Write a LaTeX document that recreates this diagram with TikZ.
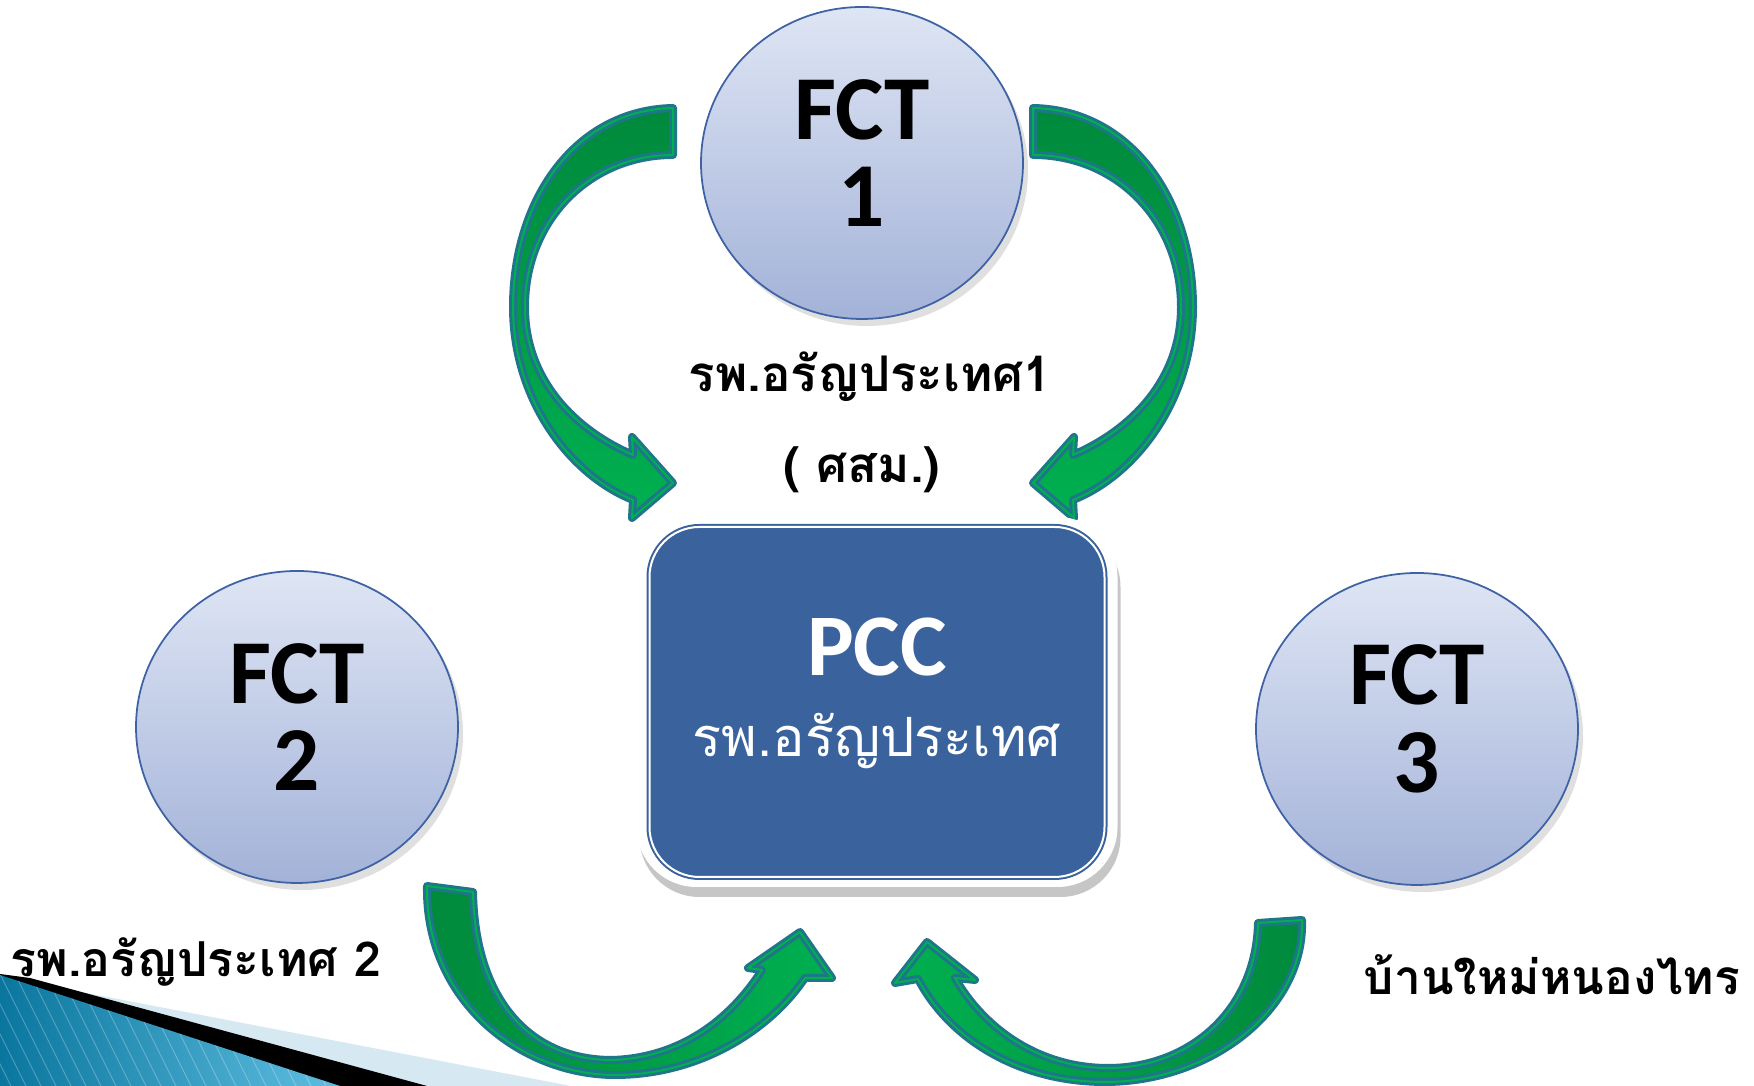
\documentclass[tikz,border=0pt]{standalone}
\usepackage{fontspec}
\setmainfont{Carlito}
\newfontfamily\thaifont[Script=Thai]{Loma}
\usetikzlibrary{shapes.geometric,shadows}

\definecolor{circtop}{RGB}{222,229,244}
\definecolor{circbot}{RGB}{163,178,216}
\definecolor{circborder}{RGB}{62,98,163}
\definecolor{pccblue}{RGB}{58,99,157}
\definecolor{arrowdark}{RGB}{0,137,60}
\definecolor{arrowlight}{RGB}{0,176,80}
\definecolor{arrowedge}{RGB}{31,117,137}
\definecolor{wedgedark}{RGB}{10,118,158}
\definecolor{wedgelight}{RGB}{95,190,225}
\definecolor{wedgepale}{RGB}{214,233,242}

\tikzset{
  fct/.style={ellipse, minimum width=3.22cm, minimum height=3.12cm, inner sep=0pt,
    draw=circborder, line width=0.5pt, top color=circtop, bottom color=circbot,
    drop shadow={opacity=0.25, shadow xshift=0.5mm, shadow yshift=-0.7mm}},
  fcttext/.style={align=center, inner sep=0pt, font=\bfseries\fontsize{26}{25}\selectfont},
  bigarrow/.style={draw=arrowedge, line width=0.8mm, line join=round,
    postaction={draw=arrowlight, line width=0.2mm, line join=round}},
  thailabel/.style={anchor=base, inner sep=0pt, font=\thaifont\bfseries\fontsize{14}{16}\selectfont},
  pccframe/.style={rectangle, rounded corners=0.6cm, fill=white, minimum width=4.81cm, minimum height=3.70cm,
    drop shadow={opacity=0.45, shadow xshift=0.3mm, shadow yshift=-1mm}},
  pccbox/.style={rectangle, rounded corners=0.5cm, fill=pccblue, draw=pccblue, double=white,
    double distance=0.2mm, line width=0.2mm, minimum width=4.55cm, minimum height=3.50cm},
  pcctext/.style={text=white, align=center, inner sep=0pt, font=\bfseries\fontsize{25}{25}\selectfont},
}

\begin{document}
\begin{tikzpicture}
  \useasboundingbox (0,0) rectangle (17.54,10.86);

  % corner band
  \fill[wedgepale] (0.50,1.00) -- (5.71,0) -- (0,0) -- cycle;
  \fill[black] (0,1.12) -- (0.30,1.08) -- (4.27,0) -- (0,0) -- cycle;
  \begin{scope}
    \clip (0,1.11) -- (3.40,0) -- (0,0) -- cycle;
    \shade[left color=wedgedark, right color=wedgelight] (0,0) rectangle (3.40,1.12);
    \foreach \i in {-0.6,-0.45,...,3.5}
      \draw[white, opacity=0.25, line width=0.3pt] (\i,1.12) -- ++(0.56,-1.12);
  \end{scope}

  % arrows
  \draw[bigarrow, top color=arrowdark, bottom color=arrowlight]
    (6.73,9.78) .. controls (5.75,9.76) and (5.13,8.86) .. (5.13,7.79)
    .. controls (5.13,6.86) and (5.70,6.11) .. (6.33,5.86)
    -- (6.32,5.68) -- (6.73,6.03) -- (6.32,6.49) -- (6.33,6.31)
    .. controls (5.75,6.56) and (5.25,7.06) .. (5.25,7.79)
    .. controls (5.25,8.66) and (5.90,9.31) .. (6.73,9.31) -- cycle;
  \begin{scope}[xshift=17.06cm, xscale=-1]
    \draw[bigarrow, top color=arrowdark, bottom color=arrowlight]
      (6.73,9.78) .. controls (5.75,9.76) and (5.13,8.86) .. (5.13,7.79)
      .. controls (5.13,6.86) and (5.70,6.11) .. (6.33,5.86)
      -- (6.32,5.68) -- (6.73,6.03) -- (6.32,6.49) -- (6.33,6.31)
      .. controls (5.75,6.56) and (5.25,7.06) .. (5.25,7.79)
      .. controls (5.25,8.66) and (5.90,9.31) .. (6.73,9.31) -- cycle;
  \end{scope}
  \draw[bigarrow, left color=arrowdark, right color=arrowlight]
    (4.27,2.00) .. controls (4.25,0.86) and (5.20,0.11) .. (6.15,0.11)
    .. controls (7.00,0.11) and (7.70,0.56) .. (8.05,1.08)
    -- (8.32,1.08) -- (8.00,1.54) -- (7.48,1.18) -- (7.62,1.16)
    .. controls (7.30,0.66) and (6.80,0.28) .. (6.12,0.26)
    .. controls (5.30,0.26) and (4.75,0.86) .. (4.73,1.94) -- cycle;
  \draw[bigarrow, left color=arrowlight, right color=arrowdark]
    (13.02,1.66) .. controls (13.05,0.76) and (12.10,0.04) .. (11.05,0.04)
    .. controls (10.20,0.04) and (9.50,0.46) .. (9.18,1.07)
    -- (8.95,1.03) -- (9.27,1.44) -- (9.75,1.06) -- (9.55,1.08)
    .. controls (9.85,0.56) and (10.40,0.18) .. (11.08,0.18)
    .. controls (11.90,0.18) and (12.56,0.76) .. (12.58,1.63) -- cycle;

  % FCT circles
  \node[fct] (fct1) at (8.62,9.23) {};
  \node[fct] (fct2) at (2.97,3.59) {};
  \node[fct] (fct3) at (14.17,3.57) {};
  \node[fcttext] (fct1txt) at ([yshift=0.1cm]fct1.center) {FCT\\1};
  \node[fcttext] (fct2txt) at ([yshift=0.1cm]fct2.center) {FCT\\2};
  \node[fcttext] (fct3txt) at ([yshift=0.1cm]fct3.center) {FCT\\3};

  % PCC
  \node[pccframe] (pccbg) at (8.77,3.84) {};
  \node[pccbox] (pcc) at (pccbg.center) {};
  \node[pcctext] (pcctxt) at ([yshift=0.09cm]pcc.center) {PCC\\[-2pt]{\thaifont\mdseries\fontsize{15.4}{18}\selectfont รพ.อรัญประเทศ}};

  % labels
  \node[thailabel] (rph1) at (8.70,6.94) {รพ.อรัญประเทศ1};
  \node[thailabel] (shm) at (8.62,6.03) {( ศสม.)};
  \node[thailabel, font=\thaifont\bfseries\fontsize{13.7}{15}\selectfont] (rph2) at (1.96,1.09) {รพ.อรัญประเทศ 2};
  \node[thailabel, font=\thaifont\bfseries\fontsize{13.6}{15}\selectfont] (nongsai) at (15.52,0.91) {บ้านใหม่หนองไทร};
\end{tikzpicture}
\end{document}
